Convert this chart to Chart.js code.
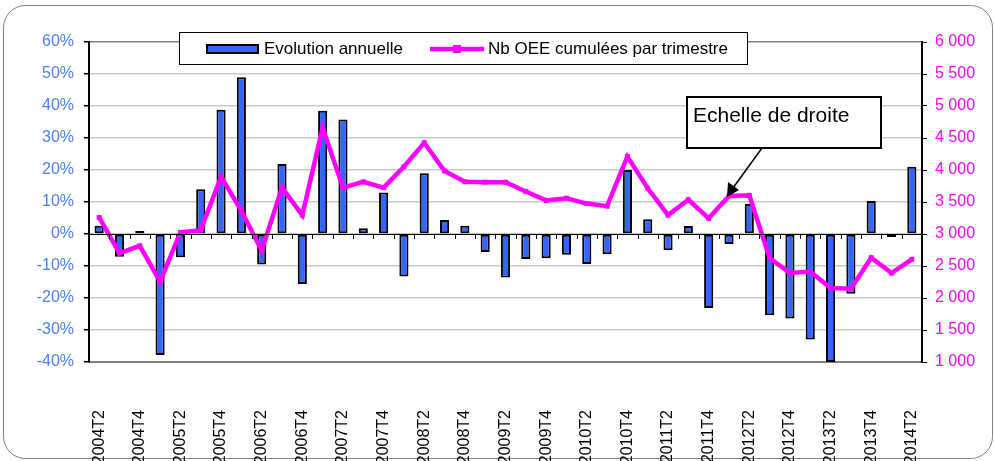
<!DOCTYPE html>
<html>
<head>
<meta charset="utf-8">
<script src="https://cdn.jsdelivr.net/npm/chart.js@4/dist/chart.umd.min.js"></script>
<style>
  html, body { margin: 0; padding: 0; background: #fff; }
  #wrap { width: 994px; height: 461px; position: relative; }
</style>
</head>
<body>
<div id="wrap"><canvas id="chart" width="994" height="461"></canvas></div>
<script>
// quarters 2004T2 .. 2014T2
const quarters = [
  '2004T2','2004T3','2004T4','2005T1','2005T2','2005T3','2005T4','2006T1','2006T2','2006T3',
  '2006T4','2007T1','2007T2','2007T3','2007T4','2008T1','2008T2','2008T3','2008T4','2009T1',
  '2009T2','2009T3','2009T4','2010T1','2010T2','2010T3','2010T4','2011T1','2011T2','2011T3',
  '2011T4','2012T1','2012T2','2012T3','2012T4','2013T1','2013T2','2013T3','2013T4','2014T1',
  '2014T2'
];

// annual change, %
const evolution = [
  2.6, -7.1, 0.8, -37.8, -7.3, 14, 38.8, 49, -9.5, 21.9,
  -15.6, 38.5, 35.8, 1.8, 13, -13.3, 19, 4.4, 2.6, -5.6,
  -13.6, -7.8, -7.6, -6.5, -9.4, -6.3, 20, 4.6, -5.1, 2.5,
  -23.1, -3.1, 9.4, -25.4, -26.4, -33, -40, -18.7, 10.3, -0.6,
  21
];

// cumulated OEE per quarter (right scale)
const oeeCumul = [
  3260, 2700, 2815, 2255, 3025, 3060, 3895, 3360, 2740, 3725,
  3295, 4660, 3725, 3815, 3725, 4050, 4425, 3985, 3815, 3810,
  3810, 3665, 3525, 3560, 3475, 3435, 4210, 3715, 3295, 3535,
  3245, 3595, 3605, 2625, 2390, 2415, 2155, 2145, 2630, 2390,
  2605
];

const leftTicks = { min: -40, max: 60, step: 10 };
const rightTicks = { min: 1000, max: 6000, step: 500 };

const barLabel = 'Evolution annuelle';
const lineLabel = 'Nb OEE cumulées par trimestre';
const noteText = 'Echelle de droite';

const FONT = 'Arial, "Liberation Sans", sans-serif';

function fmtThousands(v) {
  return String(v).replace(/\B(?=(\d{3})+(?!\d))/g, ' ');
}

// frame, zero-line ticks, legend box and the note
const decorations = {
  id: 'decorations',
  beforeDraw(chart) {
    const c = chart.ctx;
    c.save();
    c.strokeStyle = '#7f7f7f';
    c.lineWidth = 1;
    c.beginPath();
    c.roundRect(3.5, 5.5, 989, 453, 22);
    c.stroke();
    c.restore();
  },
  afterDraw(chart) {
    const c = chart.ctx;
    const x = chart.scales.x;
    const y = chart.scales.y;
    const y0 = y.getPixelForValue(0);
    const half = (x.getPixelForValue(1) - x.getPixelForValue(0)) / 2;

    // small ticks on the zero line
    c.save();
    c.strokeStyle = '#000';
    c.lineWidth = 1;
    c.beginPath();
    c.moveTo(chart.chartArea.left, y0 + 0.5);
    c.lineTo(chart.chartArea.right, y0 + 0.5);
    for (let i = 0; i <= quarters.length; i++) {
      const px = Math.round(x.getPixelForValue(i) - half) + 0.5;
      c.moveTo(px, y0);
      c.lineTo(px, y0 + 5);
    }
    c.stroke();

    // legend box
    c.fillStyle = '#fff';
    c.fillRect(180, 33, 568, 32);
    c.strokeStyle = '#000';
    c.strokeRect(179.5, 32.5, 568, 32);
    c.fillStyle = '#3366ff';
    c.fillRect(207, 45, 51, 8);
    c.lineWidth = 2;
    c.strokeRect(207, 45, 51, 8);
    c.strokeStyle = '#ff00ff';
    c.lineWidth = 4.5;
    c.beginPath();
    c.moveTo(430, 49);
    c.lineTo(484, 49);
    c.stroke();
    c.fillStyle = '#ff00ff';
    c.fillRect(453, 45, 8, 8);
    c.fillStyle = '#000';
    c.font = '17px ' + FONT;
    c.textBaseline = 'middle';
    c.fillText(barLabel, 264, 49);
    c.fillText(lineLabel, 488, 49);

    // note "Echelle de droite" with arrow
    c.fillStyle = '#fff';
    c.fillRect(687, 97, 194, 51);
    c.lineWidth = 2;
    c.strokeStyle = '#000';
    c.strokeRect(687, 97, 194, 51);
    c.fillStyle = '#000';
    c.font = '21px ' + FONT;
    c.textBaseline = 'alphabetic';
    c.fillText(noteText, 693, 122);
    c.lineWidth = 1.5;
    c.beginPath();
    c.moveTo(762, 148);
    c.lineTo(733, 188);
    c.stroke();
    c.beginPath();
    c.moveTo(727, 197);
    c.lineTo(728, 182);
    c.lineTo(739, 190);
    c.closePath();
    c.fill();
    c.restore();
  }
};

new Chart(document.getElementById('chart'), {
  type: 'bar',
  data: {
    labels: quarters,
    datasets: [
      {
        type: 'line',
        label: lineLabel,
        data: oeeCumul,
        yAxisID: 'y1',
        borderColor: '#ff00ff',
        backgroundColor: '#ff00ff',
        borderWidth: 4.5,
        pointStyle: 'rect',
        pointRadius: 3.5,
        pointBorderWidth: 0,
        tension: 0,
        order: 0
      },
      {
        type: 'bar',
        label: barLabel,
        data: evolution,
        yAxisID: 'y',
        backgroundColor: '#3366ff',
        borderColor: '#000',
        borderWidth: 2,
        borderSkipped: false,
        categoryPercentage: 0.9,
        barPercentage: 0.5,
        minBarLength: 3,
        order: 1
      }
    ]
  },
  options: {
    responsive: false,
    animation: false,
    layout: { padding: { top: 42, left: 0, right: 0, bottom: 0 } },
    plugins: {
      legend: { display: false },
      tooltip: { enabled: false },
      title: { display: false }
    },
    scales: {
      x: {
        grid: { display: false },
        border: { color: '#808080', width: 2 },
        ticks: {
          autoSkip: false,
          minRotation: 90,
          maxRotation: 90,
          padding: 40,
          color: '#000',
          font: { family: FONT, size: 16 },
          callback: function (v, i) { return i % 2 === 0 ? quarters[i] : ''; }
        },
        afterFit(s) { s.height = 99; }
      },
      y: {
        position: 'left',
        min: leftTicks.min,
        max: leftTicks.max,
        border: { color: '#000', width: 2 },
        grid: {
          color: function (ctx) {
            const v = ctx.tick && ctx.tick.value;
            if (v === 60 || v === -40) return '#808080';
            return '#c8c8c8';
          },
          lineWidth: 1.5,
          tickColor: '#000',
          tickLength: 5
        },
        ticks: {
          stepSize: leftTicks.step,
          padding: 10,
          color: '#4f7fff',
          font: { family: FONT, size: 16 },
          callback: function (v) { return v + '%'; }
        },
        afterFit(s) { s.width = 89; }
      },
      y1: {
        position: 'right',
        min: rightTicks.min,
        max: rightTicks.max,
        border: { color: '#000', width: 2 },
        grid: { drawOnChartArea: false, tickColor: '#000', tickLength: 5 },
        ticks: {
          stepSize: rightTicks.step,
          padding: 8,
          color: '#ff00ff',
          font: { family: FONT, size: 16 },
          callback: function (v) { return fmtThousands(v); }
        },
        afterFit(s) { s.width = 72; }
      }
    }
  },
  plugins: [decorations]
});
</script>
</body>
</html>
